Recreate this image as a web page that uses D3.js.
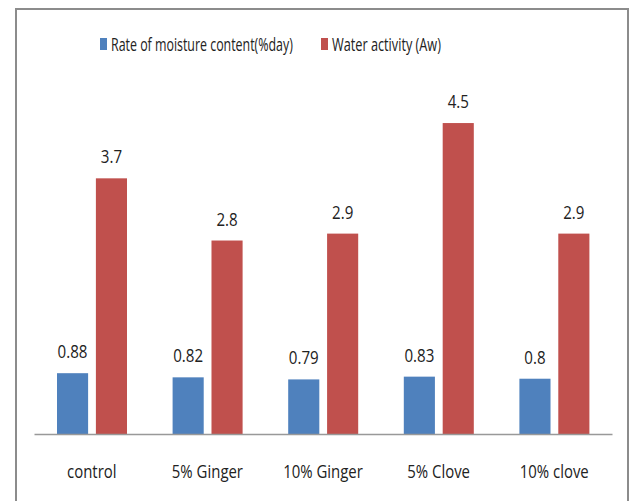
<!DOCTYPE html>
<html>
<head>
<meta charset="utf-8">
<script src="https://cdn.jsdelivr.net/npm/d3@7"></script>
<style>
  html, body { margin: 0; padding: 0; background: #fff; }
  svg { display: block; }
  text { font-family: "Open Sans", sans-serif; fill: #222; }
</style>
</head>
<body>
<svg id="chart" width="630" height="501"></svg>
<script>
// Treatments and measured values
const categories = ["control", "5% Ginger", "10% Ginger", "5% Clove", "10% clove"];
const moistureRate = [0.88, 0.82, 0.79, 0.83, 0.8];
const waterActivity = [3.7, 2.8, 2.9, 4.5, 2.9];
const seriesNames = ["Rate of moisture content(%day)", "Water activity (Aw)"];
const seriesColors = ["#4F81BD", "#C0504D"];

const svg = d3.select("#chart");

// Squeeze text horizontally around its anchor point so it reads as a narrow face.
// factor: fixed ratio, or width: target width in px.
function condense(sel, opts) {
  sel.each(function () {
    const t = d3.select(this);
    const x = +t.attr("x") || 0;
    const yv = +t.attr("y") || 0;
    const w = this.getComputedTextLength();
    const f = opts.width ? opts.width / w : opts.factor;
    t.attr("x", 0).attr("y", 0)
      .attr("transform", `translate(${x},${yv}) scale(${f},1)`);
  });
}

// Frame around the chart area
svg.append("rect")
  .attr("x", 16).attr("y", 9)
  .attr("width", 612).attr("height", 500)
  .attr("fill", "none")
  .attr("stroke", "#8c8c8c")
  .attr("stroke-width", 2);

const plot = { left: 34, right: 612, top: 88.5, bottom: 434 };

const x0 = d3.scaleBand()
  .domain(categories)
  .range([plot.left, plot.right]);

const x1 = d3.scaleBand()
  .domain([0, 1])
  .range([23, 93])
  .paddingInner(0.2);

const y = d3.scaleLinear()
  .domain([0, 5])
  .range([plot.bottom, plot.top]);

const rows = categories.map((c, i) => ({ cat: c, vals: [moistureRate[i], waterActivity[i]] }));

const groups = svg.append("g").selectAll("g")
  .data(rows)
  .join("g")
  .attr("transform", d => `translate(${x0(d.cat)},0)`);

groups.selectAll("rect")
  .data(d => d.vals.map((v, k) => ({ k, v })))
  .join("rect")
  .attr("x", d => x1(d.k))
  .attr("y", d => y(d.v))
  .attr("width", x1.bandwidth())
  .attr("height", d => y(0) - y(d.v))
  .attr("fill", d => seriesColors[d.k]);

groups.selectAll("text.val")
  .data(d => d.vals.map((v, k) => ({ k, v })))
  .join("text")
  .attr("class", "val")
  .attr("x", d => x1(d.k) + x1.bandwidth() / 2)
  .attr("y", d => y(d.v) - 15)
  .attr("text-anchor", "middle")
  .attr("font-size", 18)
  .text(d => d.v)
  .call(condense, { factor: 0.84 });

// Category axis
const xAxis = svg.append("g")
  .attr("transform", `translate(0,${plot.bottom})`)
  .call(d3.axisBottom(x0).tickSize(0));
xAxis.select(".domain").attr("stroke", "#999").attr("stroke-width", 1.5);
xAxis.selectAll("text")
  .attr("x", 0)
  .attr("y", 44)
  .attr("dy", null)
  .attr("font-size", 18)
  .attr("font-family", "Open Sans, sans-serif")
  .attr("fill", "#222")
  .call(condense, { factor: 0.83 });

// Legend
const legendItems = [
  { name: seriesNames[0], color: seriesColors[0], x: 100, len: 182 },
  { name: seriesNames[1], color: seriesColors[1], x: 321, len: 109 }
];
const legend = svg.append("g").selectAll("g")
  .data(legendItems)
  .join("g")
  .attr("transform", d => `translate(${d.x},38)`);
legend.append("rect")
  .attr("width", 7).attr("height", 12)
  .attr("fill", d => d.color);
legend.append("text")
  .attr("x", 11).attr("y", 12.5)
  .attr("font-size", 19)
  .text(d => d.name)
  .each(function (d) {
    d3.select(this).call(condense, { width: d.len });
  });
</script>
</body>
</html>
